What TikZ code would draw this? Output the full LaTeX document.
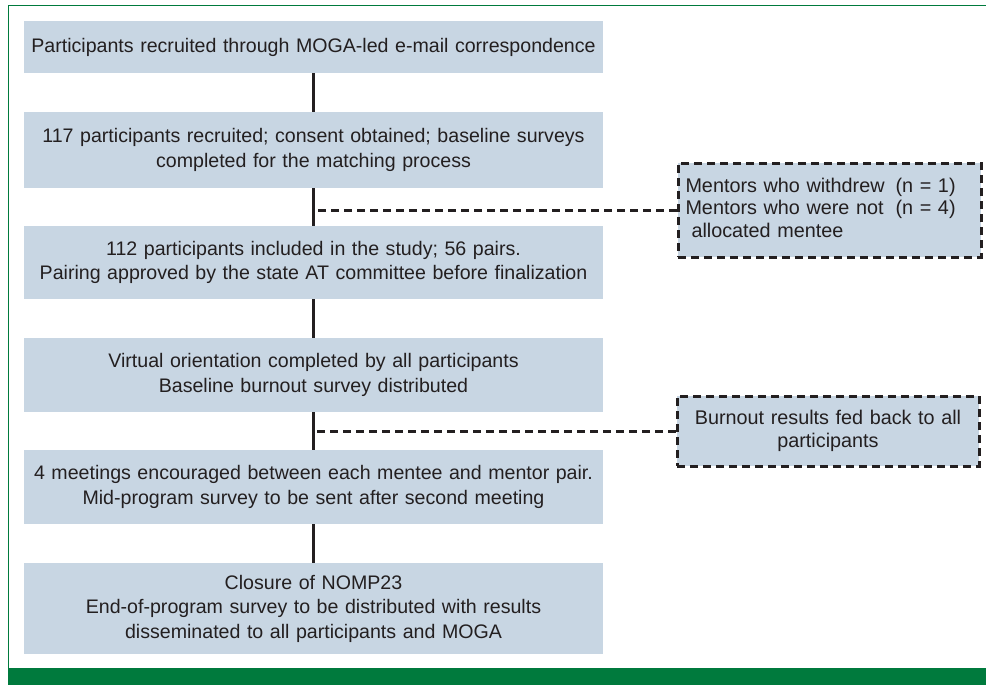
\documentclass[tikz,border=0pt]{standalone}
\usepackage{fontspec}
\setmainfont{Liberation Sans}

\definecolor{boxfill}{RGB}{200,214,227}
\definecolor{framegreen}{RGB}{0,122,61}
\definecolor{ink}{RGB}{35,31,32}

\tikzset{
	stage/.style={fill=boxfill, text=ink, inner sep=0pt, minimum width=579pt,
		text width=579pt, align=center, font=\fontsize{19.6}{24.5}\selectfont},
	note/.style={fill=boxfill, text=ink, draw=ink, line width=3pt,
		dash pattern=on 8pt off 5pt, inner sep=0pt,
		font=\fontsize{19.8}{22.5}\selectfont},
	trunk/.style={draw=ink, line width=2.4pt},
	branch/.style={draw=ink, line width=3pt, dash pattern=on 8pt off 5pt},
}

\begin{document}
\begin{tikzpicture}[x=1pt, y=-1pt]
	\useasboundingbox (0,0) rectangle (986,685);
	% frame and footer bar
	\draw[framegreen, line width=1.5pt] (8.5,668) -- (8.5,5.5) -- (986,5.5);
	\fill[framegreen] (7.75,668) rectangle (986,685);

	% main stages
	\node[stage, minimum height=52pt] (b1) at (313.5,47)
		{Participants recruited through MOGA-led e-mail correspondence};
	\node[stage, minimum height=76pt] (b2) at (313.5,150)
		{117 participants recruited; consent obtained; baseline surveys\\
		completed for the matching process};
	\node[stage, minimum height=73pt] (b3) at (313.5,262.5)
		{112 participants included in the study; 56 pairs.\\
		Pairing approved by the state AT committee before finalization};
	\node[stage, minimum height=74pt] (b4) at (313.5,375)
		{Virtual orientation completed by all participants\\
		Baseline burnout survey distributed};
	\node[stage, minimum height=74pt] (b5) at (313.5,487)
		{4 meetings encouraged between each mentee and mentor pair.\\
		Mid-program survey to be sent after second meeting};
	\node[stage, minimum height=91pt] (b6) at (313.5,608.5)
		{Closure of NOMP23\\
		End-of-program survey to be distributed with results\\
		disseminated to all participants and MOGA};

	% side notes
	\node[note, minimum width=303pt, minimum height=94pt, text width=288pt,
		align=left] (d1) at (829.5,210)
		{\begin{tabular}{@{}l@{\hspace{11pt}}l@{}}
			Mentors who withdrew & (n = 1)\\
			Mentors who were not & (n = 4)\\
			\hspace{6pt}allocated mentee & \\
		\end{tabular}};
	\node[note, minimum width=302pt, minimum height=70pt, text width=290pt,
		align=center] (d2) at (828,431)
		{Burnout results fed back to all\\participants};

	% connectors
	\foreach \a/\b in {b1/b2, b2/b3, b3/b4, b4/b5, b5/b6}
		\draw[trunk] (\a.south) -- (\b.north);
	\draw[branch] (d1.west) -- (d1.west -| b2.south);
	\draw[branch] (d2.west) -- (d2.west -| b4.south);
\end{tikzpicture}
\end{document}
